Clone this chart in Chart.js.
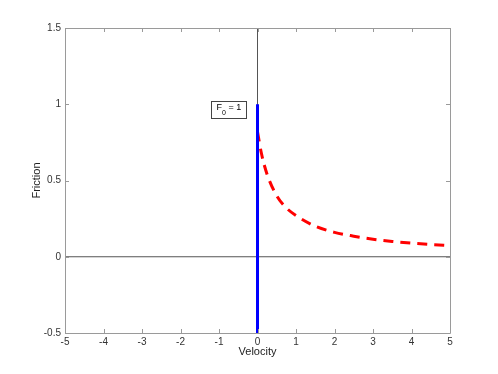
<!DOCTYPE html>
<html>
<head>
<meta charset="utf-8">
<script src="https://cdn.jsdelivr.net/npm/chart.js@4.4.1/dist/chart.umd.min.js"></script>
<style>
  html, body { margin: 0; padding: 0; background: #fff; }
  #wrap { width: 498px; height: 374px; position: relative; }
</style>
</head>
<body>
<div id="wrap"><canvas id="c" width="498" height="374"></canvas></div>
<script>
// axis ranges and ticks
var xTicks = [-5, -4, -3, -2, -1, 0, 1, 2, 3, 4, 5];
var yTicks = [-0.5, 0, 0.5, 1, 1.5];

// static friction: vertical segment at v = 0
var staticX = [0, 0];
var staticY = [-0.5, 1];

// dynamic friction curve
var dynX = [0, 0.1, 0.25, 0.5, 0.75, 1, 1.5, 2, 2.5, 3, 3.5, 4, 4.5, 5];
var dynY = [0.82, 0.68, 0.54, 0.40, 0.32, 0.27, 0.20, 0.16, 0.135, 0.115, 0.10, 0.089, 0.08, 0.073];

// zero axis lines
var hAxisX = [-5, 5];
var hAxisY = [0, 0];
var vAxisX = [0, 0];
var vAxisY = [-0.5, 1.5];

// annotation
var annText = "F";
var annSub = "0";
var annRest = " = 1";
var annX = -1.2;
var annY = 0.965;

function pts(xs, ys) {
   var out = [];
   for (var i = 0; i < xs.length; i++) {
      out.push({ x: xs[i], y: ys[i] });
   }
   return out;
}

var fontFam = "'Liberation Sans', Arial, sans-serif";

// frame, inward ticks and the text box
var framePlugin = {
   id: 'frame',
   afterDatasetsDraw: function (chart) {
      var ctx = chart.ctx;
      var a = chart.chartArea;
      var xs = chart.scales.x, ys = chart.scales.y;
      ctx.save();
      ctx.strokeStyle = '#9a9a9a';
      ctx.lineWidth = 1;
      ctx.beginPath();
      ctx.rect(Math.round(a.left) + 0.5, Math.round(a.top) + 0.5,
               Math.round(a.right - a.left), Math.round(a.bottom - a.top));
      ctx.stroke();
      var tl = 4;
      ctx.beginPath();
      xTicks.forEach(function (t) {
         var px = Math.round(xs.getPixelForValue(t)) + 0.5;
         ctx.moveTo(px, a.bottom); ctx.lineTo(px, a.bottom - tl);
         ctx.moveTo(px, a.top); ctx.lineTo(px, a.top + tl);
      });
      yTicks.forEach(function (t) {
         var py = Math.round(ys.getPixelForValue(t)) + 0.5;
         ctx.moveTo(a.left, py); ctx.lineTo(a.left + tl, py);
         ctx.moveTo(a.right, py); ctx.lineTo(a.right - tl, py);
      });
      ctx.stroke();

      // F0 = 1 box
      var bx = xs.getPixelForValue(annX);
      var by = ys.getPixelForValue(annY);
      var f1 = '9px ' + fontFam, f2 = '7px ' + fontFam;
      ctx.font = f1;
      var w1 = ctx.measureText(annText).width;
      var w3 = ctx.measureText(annRest).width;
      ctx.font = f2;
      var w2 = ctx.measureText(annSub).width;
      var pad = 5;
      var bw = Math.round(w1 + w2 + w3 + pad * 2);
      var bh = 17;
      var left = Math.round(bx) + 0.5, top = Math.round(by - bh / 2) + 0.5;
      ctx.fillStyle = '#fff';
      ctx.fillRect(left, top, bw, bh);
      ctx.strokeStyle = '#444';
      ctx.strokeRect(left, top, bw, bh);
      ctx.fillStyle = '#000';
      ctx.textBaseline = 'middle';
      ctx.textAlign = 'left';
      ctx.font = f1;
      ctx.fillText(annText, left + pad, by - 2);
      ctx.font = f2;
      ctx.fillText(annSub, left + pad + w1, by + 3);
      ctx.font = f1;
      ctx.fillText(annRest, left + pad + w1 + w2, by - 2);
      ctx.restore();
   }
};

var ctx = document.getElementById("c").getContext("2d");
var chart = new Chart(ctx, {
   type: 'scatter',
   data: {
      datasets: [
         {
            data: pts(staticX, staticY),
            showLine: true, borderColor: '#0000ff', borderWidth: 3,
            pointRadius: 0, borderCapStyle: 'butt'
         },
         {
            data: pts(dynX, dynY),
            showLine: true, borderColor: '#ff0000', borderWidth: 3,
            borderDash: [10, 7], pointRadius: 0,
            cubicInterpolationMode: 'monotone'
         },
         {
            data: pts(hAxisX, hAxisY),
            showLine: true, borderColor: '#555', borderWidth: 1, pointRadius: 0
         },
         {
            data: pts(vAxisX, vAxisY),
            showLine: true, borderColor: '#555', borderWidth: 1, pointRadius: 0
         }
      ]
   },
   options: {
      responsive: false,
      animation: false,
      devicePixelRatio: 1,
      layout: { padding: { left: 0, top: 28, right: 48, bottom: 0 } },
      plugins: { legend: { display: false }, tooltip: { enabled: false } },
      scales: {
         x: {
            type: 'linear', min: -5, max: 5,
            grid: { display: false, drawTicks: false },
            border: { display: false },
            afterBuildTicks: function (s) { s.ticks = xTicks.map(function (v) { return { value: v }; }); },
            afterFit: function (s) { s.height = 41; },
            ticks: {
               padding: 3, color: '#333', maxRotation: 0,
               font: { family: fontFam, size: 10 },
               callback: function (v) { return String(v); }
            },
            title: {
               display: true, text: 'Velocity', color: '#222',
               font: { family: fontFam, size: 11 }, padding: { top: 0, bottom: 15 }
            }
         },
         y: {
            type: 'linear', min: -0.5, max: 1.5,
            grid: { display: false, drawTicks: false },
            border: { display: false },
            afterBuildTicks: function (s) { s.ticks = yTicks.map(function (v) { return { value: v }; }); },
            afterFit: function (s) { s.width = 65; },
            ticks: {
               padding: 4, color: '#333',
               font: { family: fontFam, size: 10 },
               callback: function (v) { return String(v); }
            },
            title: {
               display: true, text: 'Friction', color: '#222',
               font: { family: fontFam, size: 11 }, padding: { top: 30, bottom: 0 }
            }
         }
      }
   },
   plugins: [framePlugin]
});
</script>
</body>
</html>
